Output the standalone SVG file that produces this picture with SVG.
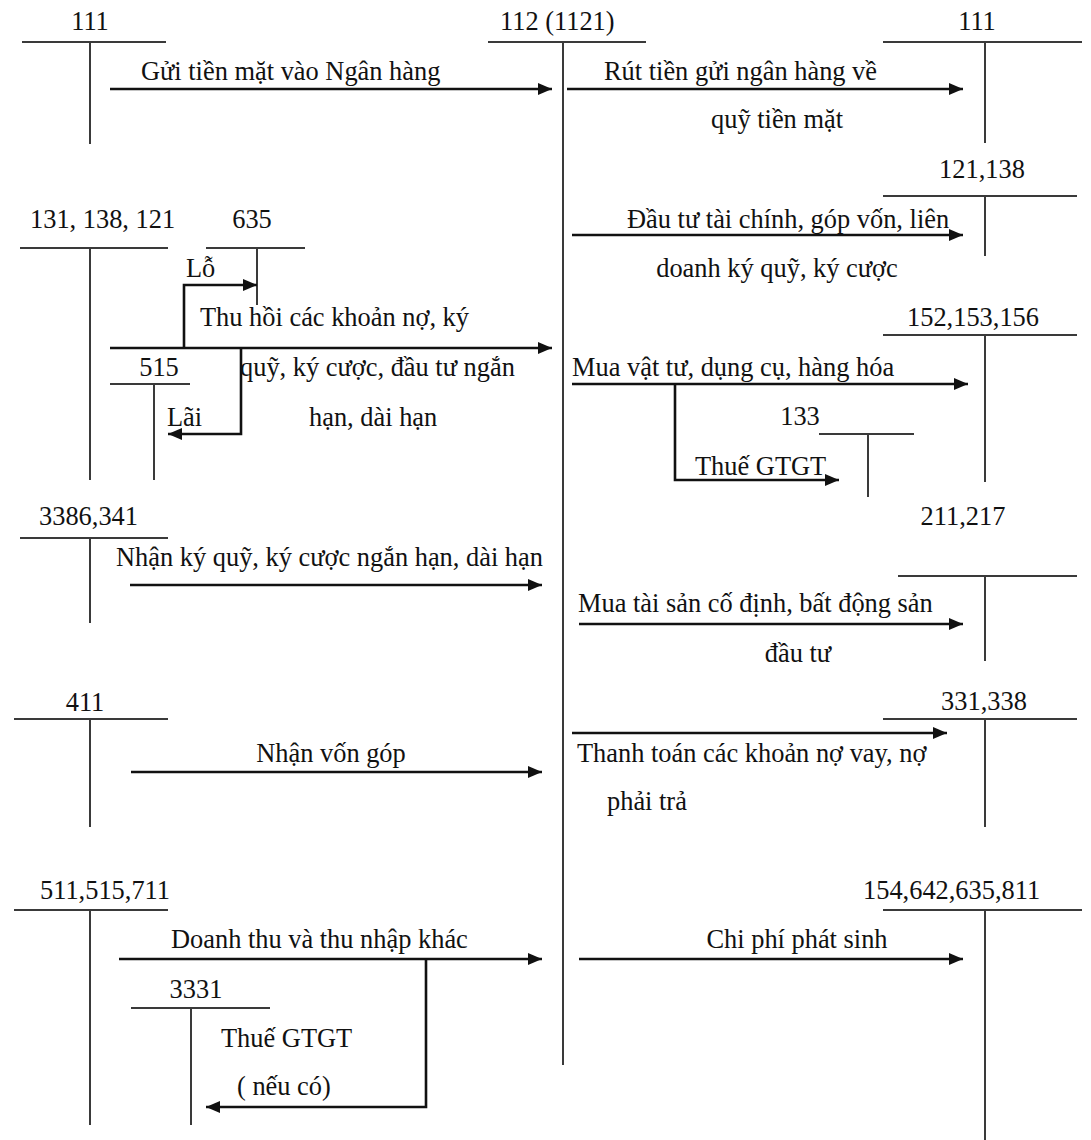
<svg xmlns="http://www.w3.org/2000/svg" width="1091" height="1140" viewBox="0 0 1091 1140">
  <style>
    text { font-family: "Liberation Serif", "Times New Roman", serif; font-size: 26.4px; fill: #111; }
    .mid { text-anchor: middle; }
    .acc line { stroke: #3a3a3a; stroke-width: 2; }
    .flow path { fill: none; stroke: #111; stroke-width: 2.6; marker-end: url(#head); }
  </style>
  <defs>
    <marker id="head" markerUnits="userSpaceOnUse" markerWidth="14" markerHeight="12" refX="14" refY="6" orient="auto">
      <path d="M0,0 L14,6 L0,12 z" fill="#111"/>
    </marker>
  </defs>

  <!-- T-accounts -->
  <g id="acc-111-left" class="acc">
    <text class="mid" x="90" y="30">111</text>
    <line x1="22" y1="42" x2="166" y2="42"/>
    <line x1="90" y1="42" x2="90" y2="144"/>
  </g>
  <g id="acc-112" class="acc">
    <text x="500" y="30">112 (1121)</text>
    <line x1="488" y1="42" x2="646" y2="42"/>
    <line x1="563" y1="42" x2="563" y2="1065"/>
  </g>
  <g id="acc-111-right" class="acc">
    <text class="mid" x="977" y="30">111</text>
    <line x1="883" y1="42" x2="1082" y2="42"/>
    <line x1="985" y1="42" x2="985" y2="143"/>
  </g>
  <g id="acc-121-138" class="acc">
    <text class="mid" x="982" y="178">121,138</text>
    <line x1="883" y1="196" x2="1077" y2="196"/>
    <line x1="985" y1="196" x2="985" y2="256"/>
  </g>
  <g id="acc-131-138-121" class="acc">
    <text x="30" y="228">131, 138, 121</text>
    <line x1="20" y1="248" x2="168" y2="248"/>
    <line x1="90" y1="248" x2="90" y2="480"/>
  </g>
  <g id="acc-635" class="acc">
    <text class="mid" x="252" y="228">635</text>
    <line x1="206" y1="248" x2="305" y2="248"/>
    <line x1="257" y1="248" x2="257" y2="305"/>
  </g>
  <g id="acc-515" class="acc">
    <text class="mid" x="159" y="376">515</text>
    <line x1="110" y1="384" x2="190" y2="384"/>
    <line x1="154" y1="384" x2="154" y2="480"/>
  </g>
  <g id="acc-152-153-156" class="acc">
    <text class="mid" x="973" y="326">152,153,156</text>
    <line x1="883" y1="335" x2="1077" y2="335"/>
    <line x1="985" y1="335" x2="985" y2="482"/>
  </g>
  <g id="acc-133" class="acc">
    <text class="mid" x="800" y="425">133</text>
    <line x1="819" y1="434" x2="914" y2="434"/>
    <line x1="868" y1="434" x2="868" y2="497"/>
  </g>
  <g id="acc-3386-341" class="acc">
    <text x="39" y="525">3386,341</text>
    <line x1="20" y1="538" x2="168" y2="538"/>
    <line x1="90" y1="538" x2="90" y2="623"/>
  </g>
  <g id="acc-211-217" class="acc">
    <text class="mid" x="963" y="525">211,217</text>
    <line x1="898" y1="576" x2="1077" y2="576"/>
    <line x1="985" y1="576" x2="985" y2="661"/>
  </g>
  <g id="acc-411" class="acc">
    <text class="mid" x="85" y="711">411</text>
    <line x1="14" y1="719" x2="168" y2="719"/>
    <line x1="90" y1="719" x2="90" y2="827"/>
  </g>
  <g id="acc-331-338" class="acc">
    <text class="mid" x="984" y="710">331,338</text>
    <line x1="883" y1="719" x2="1077" y2="719"/>
    <line x1="985" y1="719" x2="985" y2="827"/>
  </g>
  <g id="acc-511-515-711" class="acc">
    <text x="40" y="899">511,515,711</text>
    <line x1="14" y1="910" x2="168" y2="910"/>
    <line x1="90" y1="910" x2="90" y2="1125"/>
  </g>
  <g id="acc-3331" class="acc">
    <text class="mid" x="196" y="998">3331</text>
    <line x1="131" y1="1008" x2="270" y2="1008"/>
    <line x1="191" y1="1008" x2="191" y2="1125"/>
  </g>
  <g id="acc-154-642-635-811" class="acc">
    <text x="863" y="899">154,642,635,811</text>
    <line x1="883" y1="910" x2="1082" y2="910"/>
    <line x1="985" y1="910" x2="985" y2="1140"/>
  </g>

  <!-- Posting arrows -->
  <g id="connectors" class="flow">
    <path d="M110,89 H552"/>
    <path d="M567,89 H963"/>
    <path d="M572,235 H963"/>
    <path d="M110,348 H552"/>
    <path d="M184,348 V285 H257"/>
    <path d="M241,348 V434 H168"/>
    <path d="M572,384 H968"/>
    <path d="M675,384 V480 H839"/>
    <path d="M130,585 H542"/>
    <path d="M579,624 H963"/>
    <path d="M131,772 H542"/>
    <path d="M572,733 H947"/>
    <path d="M119,959 H542"/>
    <path d="M426,959 V1107 H206"/>
    <path d="M579,959 H963"/>
  </g>

  <!-- Arrow labels -->
  <g id="labels">
    <text x="141" y="80">Gửi tiền mặt vào Ngân hàng</text>
    <text x="604" y="80">Rút tiền gửi ngân hàng về</text>
    <text class="mid" x="777" y="128">quỹ tiền mặt</text>
    <text x="627" y="228">Đầu tư tài chính, góp vốn, liên</text>
    <text class="mid" x="777" y="277">doanh ký quỹ, ký cược</text>
    <text x="186" y="277">Lỗ</text>
    <text x="200" y="326">Thu hồi các khoản nợ, ký</text>
    <text x="240" y="376">quỹ, ký cược, đầu tư ngắn</text>
    <text x="309" y="426">hạn, dài hạn</text>
    <text x="167" y="426">Lãi</text>
    <text x="572" y="376">Mua vật tư, dụng cụ, hàng hóa</text>
    <text x="695" y="475">Thuế GTGT</text>
    <text x="116" y="566">Nhận ký quỹ, ký cược ngắn hạn, dài hạn</text>
    <text x="578" y="612">Mua tài sản cố định, bất động sản</text>
    <text class="mid" x="798" y="662">đầu tư</text>
    <text class="mid" x="331" y="762">Nhận vốn góp</text>
    <text x="577" y="762">Thanh toán các khoản nợ vay, nợ</text>
    <text x="607" y="810">phải trả</text>
    <text x="171" y="948">Doanh thu và thu nhập khác</text>
    <text x="221" y="1047">Thuế GTGT</text>
    <text x="237" y="1095">( nếu có)</text>
    <text class="mid" x="797" y="948">Chi phí phát sinh</text>
  </g>
</svg>
